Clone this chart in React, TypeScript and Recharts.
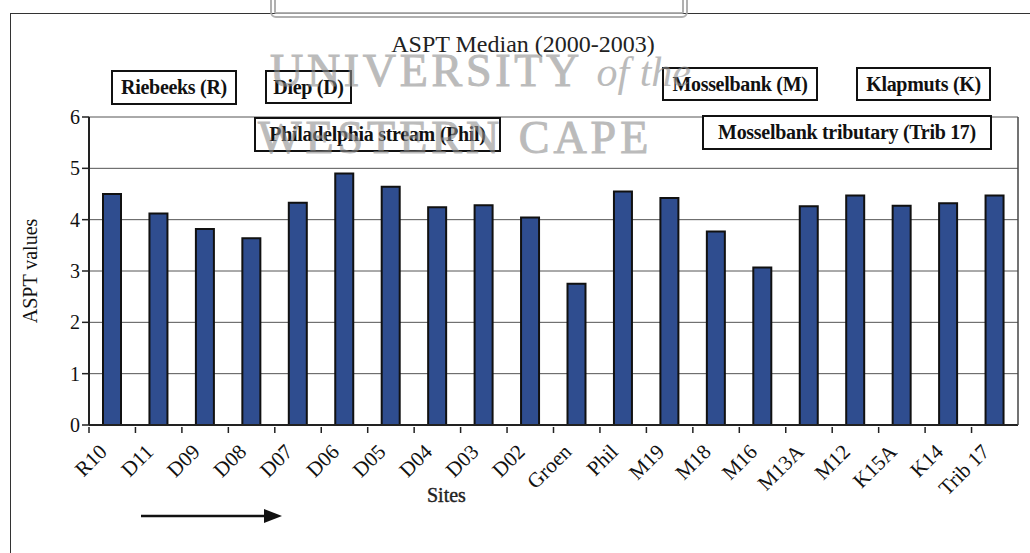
import { BarChart, Bar, XAxis, YAxis, CartesianGrid } from 'recharts';

const sites = ['R10', 'D11', 'D09', 'D08', 'D07', 'D06', 'D05', 'D04', 'D03', 'D02', 'Groen', 'Phil', 'M19', 'M18', 'M16', 'M13A', 'M12', 'K15A', 'K14', 'Trib 17'];
const asptMedian = [4.5, 4.12, 3.82, 3.64, 4.33, 4.9, 4.64, 4.24, 4.28, 4.04, 2.75, 4.55, 4.42, 3.77, 3.07, 4.26, 4.47, 4.27, 4.32, 4.47];
const yTicks = [0, 1, 2, 3, 4, 5, 6];

const chartData = sites.map((site, i) => ({ site, value: asptMedian[i] }));

const serif = '"Liberation Serif", "Times New Roman", serif';

// annotation boxes that sit above the plot
const boxes = [
  { label: 'Riebeeks (R)', left: 111, top: 70, width: 126, height: 35 },
  { label: 'Diep (D)', left: 265, top: 70, width: 87, height: 34 },
  { label: 'Philadelphia stream (Phil)', left: 254, top: 117, width: 247, height: 35 },
  { label: 'Mosselbank (M)', left: 662, top: 67, width: 156, height: 34 },
  { label: 'Klapmuts (K)', left: 856, top: 67, width: 135, height: 34 },
  { label: 'Mosselbank tributary (Trib 17)', left: 702, top: 115, width: 290, height: 35 },
];

function SiteTick(props: any) {
  const { x, y, payload } = props;
  const half = payload.offset || 0;
  return (
    <g>
      <line x1={x - half} y1={y - 6} x2={x - half} y2={y} stroke="#222" strokeWidth={1.5} />
      <text
        x={0}
        y={0}
        transform={`translate(${x - 4}, ${y + 20}) rotate(-45)`}
        textAnchor="end"
        fontFamily={serif}
        fontSize={21}
        fill="#111"
      >
        {payload.value}
      </text>
    </g>
  );
}

export default function App() {
  return (
    <div style={{ position: 'absolute', left: 0, top: 0, width: 1030, height: 553, background: '#fff', overflow: 'hidden', fontFamily: serif }}>
      {/* outer frame */}
      <div style={{ position: 'absolute', left: 10, top: 13, width: 1040, height: 600, borderLeft: '1.5px solid #333', borderTop: '1.5px solid #333' }} />

      <div style={{ position: 'absolute', left: 0, top: 0 }}>
        <BarChart width={1030} height={553} data={chartData} margin={{ top: 117, right: 0, left: 0, bottom: 0 }} barSize={18}>
          <CartesianGrid vertical={false} stroke="#555" strokeWidth={1} />
          <XAxis
            dataKey="site"
            interval={0}
            tickLine={false}
            tickSize={6}
            height={128}
            axisLine={{ stroke: '#222', strokeWidth: 2 }}
            tick={<SiteTick />}
          />
          <YAxis
            domain={[0, 6]}
            ticks={yTicks}
            width={89}
            axisLine={{ stroke: '#222', strokeWidth: 2 }}
            tickLine={{ stroke: '#222', strokeWidth: 1.5 }}
            tickSize={7}
            tick={{ fontFamily: serif, fontSize: 20, fill: '#111' }}
            label={{ value: 'ASPT values', angle: -90, position: 'insideLeft', offset: 30, style: { fontFamily: serif, fontSize: 20, fill: '#111', textAnchor: 'middle' } }}
          />
          <YAxis
            yAxisId="frame"
            orientation="right"
            domain={[0, 6]}
            width={12}
            tick={false}
            tickLine={false}
            axisLine={{ stroke: '#444', strokeWidth: 1.5 }}
          />
          <Bar dataKey="value" fill="#2f4d8f" stroke="#111" strokeWidth={2} isAnimationActive={false} />
        </BarChart>
      </div>

      {/* title */}
      <div style={{ position: 'absolute', left: 0, width: 1046, top: 31, textAlign: 'center', fontSize: 24, color: '#222' }}>
        ASPT Median (2000-2003)
      </div>

      {boxes.map((b) => (
        <div
          key={b.label}
          style={{
            position: 'absolute',
            left: b.left,
            top: b.top,
            width: b.width,
            height: b.height,
            boxSizing: 'border-box',
            border: '2px solid #111',
            background: '#fff',
            fontWeight: 'bold',
            fontSize: 20,
            letterSpacing: -0.3,
            color: '#111',
            display: 'flex',
            alignItems: 'center',
            justifyContent: 'center',
            whiteSpace: 'nowrap',
          }}
        >
          {b.label}
        </div>
      ))}

      {/* x axis title and arrow */}
      <div style={{ position: 'absolute', left: 427, top: 484, fontSize: 20, color: '#222', WebkitTextStroke: '0.4px #222' }}>Sites</div>
      <svg style={{ position: 'absolute', left: 0, top: 0 }} width={1030} height={553}>
        <line x1={141} y1={516} x2={266} y2={516} stroke="#111" strokeWidth={2.5} />
        <polygon points="264,509 282,516 264,523" fill="#111" />
      </svg>

      {/* watermark */}
      <div style={{ position: 'absolute', left: 270, top: -12, width: 418, height: 30, boxSizing: 'border-box', border: '6px double #a8a8a8', borderRadius: 6, opacity: 0.9 }} />
      <div style={{ position: 'absolute', left: 270, top: 44, fontSize: 46, letterSpacing: 3.7, color: '#8f8f8f', opacity: 0.6, whiteSpace: 'nowrap', pointerEvents: 'none', WebkitTextStroke: '1px #8f8f8f' }}>
        UNIVERSITY <span style={{ fontStyle: 'italic', letterSpacing: 0, fontSize: 42, WebkitTextStroke: '0px' }}>of the</span>
      </div>
      <div style={{ position: 'absolute', left: 258, top: 111, fontSize: 46, letterSpacing: 4, color: '#8f8f8f', opacity: 0.6, whiteSpace: 'nowrap', pointerEvents: 'none', WebkitTextStroke: '1px #8f8f8f' }}>
        WESTERN CAPE
      </div>
    </div>
  );
}
